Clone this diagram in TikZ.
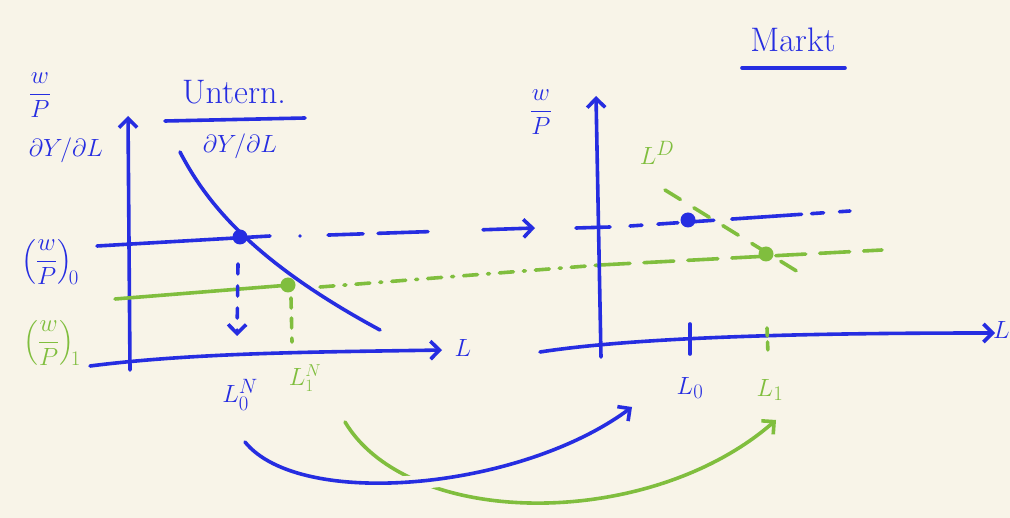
\documentclass[tikz,border=0pt]{standalone}
\usepackage{amsmath}
\usetikzlibrary{arrows.meta, calc, positioning}
\definecolor{penBlue}{RGB}{38,45,225}
\definecolor{penGreen}{RGB}{128,190,62}
\definecolor{paper}{RGB}{248,244,232}
\tikzset{
  pen/.style={line width=3.6pt, line cap=round, line join=round},
  bluepen/.style={pen, draw=penBlue},
  greenpen/.style={pen, draw=penGreen},
  tip/.style={-{Straight Barb[length=9pt, width=18pt]}},
  lbl/.style={font=\fontsize{28}{30}\selectfont, inner sep=0pt},
  biglbl/.style={font=\fontsize{34}{36}\selectfont, inner sep=0pt},
  sublbl/.style={font=\fontsize{24}{26}\selectfont, inner sep=0pt},
  dot/.style={circle, inner sep=0pt, minimum size=15pt},
}

\begin{document}
\begin{tikzpicture}[x=1pt, y=-1pt]
  % ----- paper -----
  \fill[paper] (0,0) rectangle (1010,518);
  \useasboundingbox (0,0) rectangle (1010,518);

  % ----- left diagram: firm -----
  \draw[bluepen, tip] (130,370) -- (128,116);                        % w/P axis
  \draw[bluepen, tip] (90,366) .. controls (200,352) and (330,352) .. (442,350);
  \node[lbl, text=penBlue] (lL) at (463,348) {$L$};
  \draw[bluepen] (180,152) .. controls (205,200) and (250,260) .. (380,330); % demand
  \draw[bluepen] (97,246) -- (270,236);                              % (w/P)_0
  \draw[greenpen] (115,299) -- (290,285);                            % (w/P)_1
  \draw[bluepen, tip, dash pattern=on 10pt off 12pt] (238,264) -- (237,336);
  \draw[greenpen, dash pattern=on 10pt off 10pt] (291,298) -- (292,342);
  \node[dot, fill=penBlue] (p0) at (240,237) {};
  \node[dot, fill=penGreen] (p1) at (288,285) {};

  \node[lbl, text=penBlue] (wp0) at (50,262) {$\Bigl(\dfrac{w}{P}\Bigr)_{\!0}$};
  \node[lbl, text=penGreen] (wp1) at (52,343) {$\Bigl(\dfrac{w}{P}\Bigr)_{\!1}$};
  \node[lbl, text=penBlue] (ln0) at (240,395) {$L^N_0$};
  \node[sublbl, text=penGreen] (ln1) at (305,378) {$L^N_1$};

  \node[lbl, text=penBlue] (wl) at (40,95) {$\dfrac{w}{P}$};
  \node[lbl, text=penBlue] (dyl) at (66,150) {$\partial Y/\partial L$};
  \node[biglbl, text=penBlue] (firm) at (234,92) {Untern.};
  \draw[bluepen] (165,121) -- (305,118);
  \node[lbl, text=penBlue] (dyt) at (240,146) {$\partial Y/\partial L$};

  % ----- transfer to market -----
  \draw[bluepen, tip, dash pattern=on 0.1pt off 28pt on 35pt off 15pt on 50pt off 55pt on 60pt off 10pt]
       (300,236) -- (535,228);
  \draw[greenpen, dash pattern=on 14pt off 10pt on 2pt off 10pt] (320,287) -- (600,265);
  \draw[greenpen, dash pattern=on 30pt off 14pt] (600,265) -- (882,250);

  % ----- right diagram: market -----
  \draw[bluepen, tip] (601,357) -- (596,96);
  \draw[bluepen, tip] (540,352) .. controls (650,335) and (850,333) .. (995,333);
  \node[lbl, text=penBlue, anchor=east] (rL) at (1010,330) {$L$};
  \draw[bluepen] (576,228) -- (610,227);
  \draw[bluepen, dash pattern=on 12pt off 16pt on 20pt off 16pt on 20pt off 18pt on 70pt off 10pt]
       (630,226) -- (850,211);
  \draw[greenpen, dash pattern=on 18pt off 16pt] (665,190) -- (803,275); % L^D
  \node[dot, fill=penBlue] (q0) at (688,220) {};
  \node[dot, fill=penGreen] (q1) at (766,254) {};
  \draw[bluepen] (690,324) -- (690,354);
  \draw[greenpen, dash pattern=on 8pt off 6pt] (767,328) -- (768,354);

  \node[lbl, text=penBlue] (wr) at (541,112) {$\dfrac{w}{P}$};
  \node[lbl, text=penGreen] (ld) at (657,153) {$L^D$};
  \node[lbl, text=penBlue] (l0) at (690,388) {$L_0$};
  \node[lbl, text=penGreen] (l1) at (770,390) {$L_1$};
  \node[biglbl, text=penBlue] (market) at (793,40) {Markt};
  \draw[bluepen] (742,68) -- (845,68);

  % ----- mapping arrows -----
  \draw[greenpen, tip] (345,422) .. controls (410,530) and (650,530) .. (776,420);
  \draw[bluepen, tip, preaction={draw=paper, line width=14pt, line cap=butt}]
       (245,442) .. controls (300,510) and (520,490) .. (632,407);
\end{tikzpicture}
\end{document}
